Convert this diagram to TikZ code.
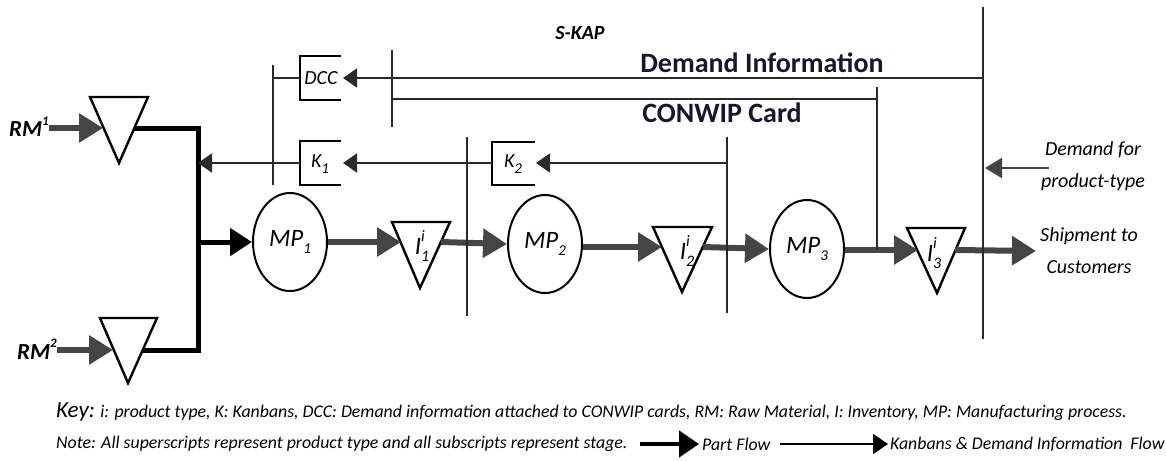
\documentclass[tikz,border=0pt]{standalone}
\usepackage{fontspec}
\setmainfont{Carlito}
\usetikzlibrary{arrows.meta,shapes.geometric}
\definecolor{flowgray}{HTML}{454545}
\definecolor{linegray}{HTML}{2a2a2a}
\definecolor{headtext}{HTML}{141828}
\newcommand{\supsub}[3]{#1\makebox[0pt][l]{\raisebox{0.55em}{\fontsize{16}{16}\selectfont #2}}\raisebox{-0.28em}{\fontsize{16}{16}\selectfont #3}}
\newcommand{\subonly}[2]{#1\raisebox{-0.28em}{\fontsize{15}{15}\selectfont #2}}
\begin{document}
\begin{tikzpicture}[x=1pt,y=-1pt,
  proc/.style={ellipse,draw,line width=2pt,minimum width=74pt,minimum height=98pt,inner sep=0pt,font=\fontsize{25}{27}\selectfont\itshape},
  tri/.style={draw,line width=2.4pt,line join=miter},
  flow/.style={draw=flowgray,line width=6pt,-{Triangle[length=24pt,width=28pt]}},
  pflow/.style={draw=black,line width=5pt},
  pflowarr/.style={draw=black,line width=5pt,-{Triangle[length=22pt,width=27pt]}},
  info/.style={draw=linegray,line width=1.8pt},
  infoarr/.style={draw=linegray,line width=1.8pt,-{Triangle[length=14pt,width=19pt]}},
  bracket/.style={draw,line width=2.2pt},
  cardlbl/.style={inner sep=0pt,font=\fontsize{20}{22}\selectfont\itshape},
  trilbl/.style={inner sep=0pt,font=\fontsize{25}{27}\selectfont\itshape},
  rmlbl/.style={inner sep=0pt,font=\fontsize{23}{25}\selectfont\bfseries\itshape},
  headlbl/.style={inner sep=0pt,text=headtext,font=\fontsize{28}{30}\selectfont\bfseries},
  sidelbl/.style={inner sep=0pt,align=center,font=\fontsize{20}{32}\selectfont\itshape},
  keylbl/.style={inner sep=0pt,anchor=west,font=\fontsize{17.8}{19}\selectfont\itshape}
]
\useasboundingbox (0,0) rectangle (1166,460);

% ---------- inventory triangles ----------
\draw[tri] (90,97) -- (148,97) -- (119,163) -- cycle;
\draw[tri] (100,318) -- (157,318) -- (128,383) -- cycle;
\draw[tri] (392,222) -- (450,222) -- (420,288) -- cycle;
\draw[tri] (653,227) -- (712,227) -- (682,292) -- cycle;
\draw[tri] (907,228) -- (965,228) -- (937,293) -- cycle;
\coordinate (t1r) at (134,128);
\coordinate (t1l) at (103,128);
\coordinate (t2r) at (143,350);
\coordinate (t2l) at (113,350);
\coordinate (i1l) at (401,242);
\coordinate (i1r) at (441,242);
\coordinate (i2l) at (662,247);
\coordinate (i2r) at (703,247);
\coordinate (i3l) at (918,250);
\coordinate (i3r) at (955,250);

\node[trilbl] (i1txt) at (422,246) {\supsub{I}{i}{1}};
\node[trilbl] (i2txt) at (687,251) {\supsub{I}{i}{2}};
\node[trilbl] (i3txt) at (934,253) {\supsub{I}{i}{3}};

% ---------- processes ----------
\node[proc] (mp1) at (290,242) {\subonly{MP}{1}};
\node[proc] (mp2) at (545,244) {\subonly{MP}{2}};
\node[proc] (mp3) at (807,249) {\subonly{MP}{3}};

% ---------- raw material ----------
\node[rmlbl,anchor=east] (rm1) at (49,127) {RM\raisebox{0.5em}{\fontsize{13}{13}\selectfont 1}};
\node[rmlbl,anchor=east] (rm2) at (57,349) {RM\raisebox{0.5em}{\fontsize{13}{13}\selectfont 2}};
\draw[flow] (rm1.east |- t1l) -- (t1l);
\draw[flow] (rm2.east |- t2l) -- (t2l);

% ---------- part flow merge ----------
\coordinate (mtop) at (198,128);
\coordinate (mbot) at (198,350);
\coordinate (mmid) at (198,242);
\coordinate (kin) at (198,163);
\draw[pflow,line join=miter] (t1r) -- (mtop) -- (mbot) -- (t2r);
\draw[pflowarr] (mmid) -- (mp1.west);

% ---------- main flow ----------
\draw[flow] (mp1.east |- i1l) -- (i1l);
\draw[flow] (i1r) -- (mp2.west);
\draw[flow] (mp2.east |- i2l) -- (i2l);
\draw[flow] (i2r) -- (mp3.west);
\draw[flow] (mp3.east |- i3l) -- (i3l);
\coordinate (ship) at (1036,251);
\draw[flow] (i3r) -- (ship);

% ---------- vertical dividers ----------
\coordinate (v1t) at (273,65);   \coordinate (v1b) at (273,185);
\coordinate (v2t) at (392,50);   \coordinate (v2b) at (392,127);
\coordinate (v3t) at (467,137);  \coordinate (v3b) at (467,316);
\coordinate (v4t) at (727,137);  \coordinate (v4b) at (727,313);
\coordinate (v5t) at (877,87);   \coordinate (v5b) at (877,249);
\coordinate (v6t) at (983,7);    \coordinate (v6b) at (983,339);
\draw[info] (v1t) -- (v1b);
\draw[info] (v2t) -- (v2b);
\draw[info] (v3t) -- (v3b);
\draw[info] (v4t) -- (v4b);
\draw[info] (v5t) -- (v5b);
\draw[info] (v6t) -- (v6b);

% ---------- cards ----------
\draw[bracket] (341,56) -- (300,56) -- (300,100) -- (341,100);
\draw[bracket] (341,141) -- (300,141) -- (300,185) -- (341,185);
\draw[bracket] (535,142) -- (492,142) -- (492,185) -- (535,185);
\node[cardlbl] (dcc) at (321,78) {DCC};
\node[cardlbl] (k1) at (320,164) {\subonly{K}{1}};
\node[cardlbl] (k2) at (513,164) {\subonly{K}{2}};
\coordinate (dccl) at (300,78);
\coordinate (dcca) at (343,78);
\coordinate (k1l) at (300,163);
\coordinate (k1a) at (343,163);
\coordinate (k2l) at (492,163);
\coordinate (k2a) at (536,163);

% ---------- information lines ----------
\draw[info] (dccl) -- (v1t |- dccl);
\draw[info] (k1l) -- (v1t |- k1l);
\draw[infoarr] (k1l) -- (kin);
\draw[infoarr] (k2l) -- (k1a);
\draw[infoarr] (v4t |- k2a) -- (k2a);
\draw[infoarr] (v6t |- dcca) -- (dcca);
\coordinate (cw) at (392,99);
\draw[info] (cw) -- (v5t |- cw);

% ---------- labels ----------
\node[inner sep=0pt,font=\fontsize{20}{22}\selectfont\bfseries\itshape] (skap) at (580,33) {S-KAP};
\node[headlbl] (dinfo) at (762,63) {Demand Information};
\node[headlbl] (cwip) at (722,113) {CONWIP Card};
\node[sidelbl] (dem) at (1093,166) {Demand for\\product-type};
\coordinate (dema) at (985,168);
\draw[draw=flowgray,line width=2.5pt,-{Triangle[length=17pt,width=20pt]}] (1049,168) -- (dema);
\node[sidelbl] (shiptxt) at (1089,251) {Shipment to\\Customers};

% ---------- key ----------
\node[keylbl] (key) at (56,412) {{\fontsize{23}{23}\selectfont Key:} i: product type, K: Kanbans, DCC: Demand information attached to CONWIP cards, RM: Raw Material, I: Inventory, MP: Manufacturing process.};
\node[keylbl] (note) at (56,444) {Note: All superscripts represent product type and all subscripts represent stage.};
\coordinate (pfs) at (640,444);
\coordinate (pfe) at (699,444);
\draw[draw=black,line width=4.5pt,-{Triangle[length=20pt,width=26pt]}] (pfs) -- (pfe);
\node[keylbl] (pftxt) at (702,444) {Part Flow};
\coordinate (kfs) at (780,444);
\coordinate (kfe) at (888,444);
\draw[draw=black,line width=1.4pt,-{Triangle[length=15pt,width=20pt]}] (kfs) -- (kfe);
\node[keylbl] (kftxt) at (890,444) {Kanbans \& Demand Information\ \ Flow};
\end{tikzpicture}
\end{document}
